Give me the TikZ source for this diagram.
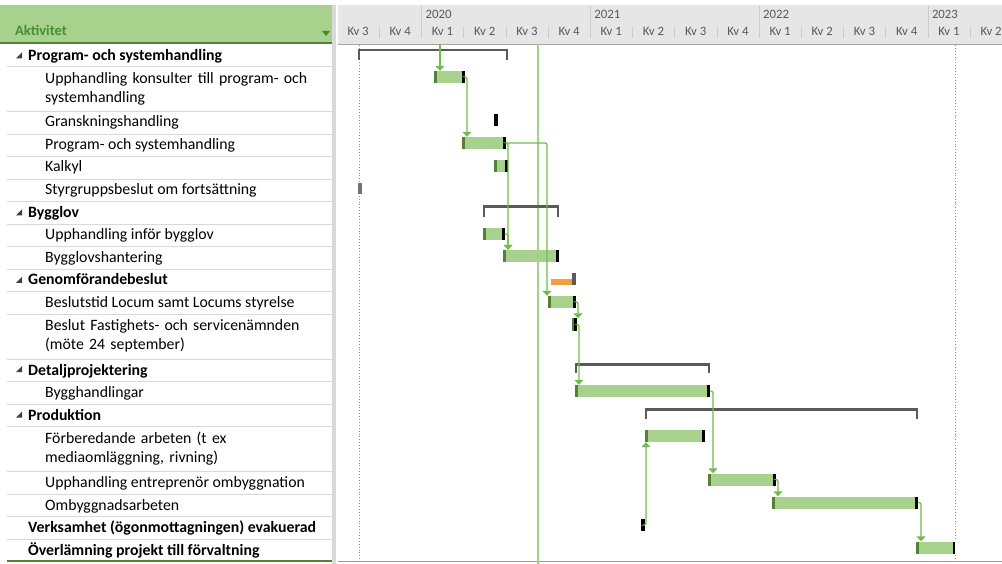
\documentclass[tikz,border=0pt]{standalone}
\usepackage{fontspec}
\setmainfont{Carlito}
\usetikzlibrary{arrows.meta, calc}

\definecolor{barfill}{HTML}{A9D18E}
\definecolor{barstart}{HTML}{548235}
\definecolor{linkgreen}{HTML}{72BC4B}
\definecolor{summarygray}{HTML}{5A5A5A}
\definecolor{hdrtext}{HTML}{43912F}
\definecolor{hdrgray}{HTML}{E6E6E6}
\definecolor{gridgray}{HTML}{D9D9D9}
\definecolor{todaygreen}{HTML}{A2D28C}
\definecolor{critorange}{HTML}{F0A040}

\begin{document}
\begin{tikzpicture}[
    x=1pt, y=-1pt,
    every node/.style={inner sep=0pt, font=\fontsize{15.8}{19}\selectfont},
    task/.style={anchor=base west},
    summary/.style={anchor=base west, font=\fontsize{15.8}{19}\selectfont\bfseries},
    twoline/.style={anchor=north west, text width=290pt, align=left},
    qlabel/.style={font=\fontsize{12.8}{14}\selectfont, text=black!65},
    bar/.style={
        anchor=west,
        fill=barfill,
        minimum height=12pt,
        path picture={
            \fill[barstart] (path picture bounding box.north west) rectangle ([xshift=3pt]path picture bounding box.south west);
            \fill[black] ([xshift=-3pt]path picture bounding box.north east) rectangle (path picture bounding box.south east);
        }
    },
    tickbar/.style={anchor=west, fill=black, minimum width=4pt, minimum height=12pt},
    bracket/.style={draw=summarygray, line width=2.6pt},
    link/.style={draw=linkgreen, line width=1.3pt, rounded corners=2pt, -{Triangle[width=9pt,length=5pt]}},
    fold/.style={fill=black!75}
]
\useasboundingbox (0,0) rectangle (1002,564);

% --- header ---
\fill[barfill] (0,5) rectangle (332,43);
\draw[barstart, line width=1.8pt] (0,43) -- (332,43);
\node[anchor=base west, font=\fontsize{14.5}{15}\selectfont\bfseries, text=hdrtext] (hdr) at (15,36) {Aktivitet};
\fill[barstart] (322,31) -- (330,31) -- (326,36) -- cycle;
\fill[gridgray] (332,5) rectangle (336,564);
\fill[hdrgray] (338,5) rectangle (1002,44);
\draw[black!35] (338,44) -- (1002,44);

% quarters and years (one quarter = 42.2)
\foreach \k in {0,...,15} {
    \pgfmathtruncatemacro\q{mod(\k+2,4)+1}
    \node[qlabel] (q\k) at ({337+42.2*(\k+0.5)},31.5) {Kv \q};
}
\foreach \k in {1,...,15}
    \draw[black!20] ({337+42.2*\k},27) -- ({337+42.2*\k},38);
\foreach \yr/\k in {2020/2, 2021/6, 2022/10, 2023/14} {
    \draw[black!20] ({337+42.2*\k},6) -- ({337+42.2*\k},38);
    \node[qlabel, anchor=west] (y\yr) at ({337+42.2*\k+4},14.5) {\yr};
}

% --- table grid ---
\foreach \y in {66.5,111.5,134,156.5,179,201.5,224,246.5,269,291.5,314,359,381.5,404,426.5,471.5,494,516.5,539}
    \draw[gridgray] (7,\y) -- (332,\y);
\draw[barstart, line width=1.6pt] (7,561) -- (332,561);
\draw[black!40] (338,561) -- (1002,561);

% project start / finish and status date
\draw[black!45, dotted, line width=0.9pt] (359,45) -- (359,564);
\draw[black!45, dotted, line width=0.9pt] (955,45) -- (955,564);
\draw[todaygreen, line width=1.1pt] (538,44) -- (538,564);

% --- activity names ---
\foreach \y in {55.5,212.5,280,369,414.5}
    \fill[fold] (16,\y+3) -- (22,\y+3) -- (22,\y-3) -- cycle;
\node[summary] (n1) at (28,61) {Program- och systemhandling};
\node[twoline] (n2) at (45,72) {Upphandling konsulter till program- och\\ systemhandling};
\node[task] (n3) at (45,126.5) {Granskningshandling};
\node[task] (n4) at (45,149.5) {Program- och systemhandling};
\node[task] (n5) at (45,172) {Kalkyl};
\node[task] (n6) at (45,194.5) {Styrgruppsbeslut om fortsättning};
\node[summary] (n7) at (28,217.5) {Bygglov};
\node[task] (n8) at (45,240) {Upphandling inför bygglov};
\node[task] (n9) at (45,262.5) {Bygglovshantering};
\node[summary] (n10) at (28,285) {Genomförandebeslut};
\node[task] (n11) at (45,307.5) {Beslutstid Locum samt Locums styrelse};
\node[twoline] (n12) at (45,319.5) {Beslut Fastighets- och servicenämnden\\ (möte 24 september)};
\node[summary] (n13) at (28,375) {Detaljprojektering};
\node[task] (n14) at (45,397.5) {Bygghandlingar};
\node[summary] (n15) at (28,420) {Produktion};
\node[twoline] (n16) at (45,432) {Förberedande arbeten (t ex\\ mediaomläggning, rivning)};
\node[task] (n17) at (45,487.5) {Upphandling entreprenör ombyggnation};
\node[task] (n18) at (45,510) {Ombyggnadsarbeten};
\node[summary] (n19) at (28,532.5) {Verksamhet (ögonmottagningen) evakuerad};
\node[summary] (n20) at (28,555) {Överlämning projekt till förvaltning};

% --- summary brackets ---
\draw[bracket] (359,60) -- (359,50) -- (507,50) -- (507,60);
\draw[bracket] (484,217) -- (484,206.5) -- (558,206.5) -- (558,217);
\draw[bracket] (576,373) -- (576,364.5) -- (709,364.5) -- (709,373);
\draw[bracket] (646,419) -- (646,409.5) -- (917,409.5) -- (917,419);
\node[anchor=west, fill=critorange, minimum width=21pt, minimum height=6pt] (b10) at (551,282) {};
\fill[summarygray] (572,273) rectangle (575.5,285.5);

% --- task bars ---
\node[bar, minimum width=31pt] (b2) at (434,77) {};
\node[tickbar] (b3) at (494,120) {};
\node[bar, minimum width=44pt] (b4) at (462,143) {};
\node[bar, minimum width=14pt] (b5) at (494,166) {};
\node[tickbar, fill=black!55, minimum height=11pt] (b6) at (358,188.5) {};
\node[bar, minimum width=22pt] (b8) at (483,234) {};
\node[bar, minimum width=56pt] (b9) at (503,256) {};
\node[bar, minimum width=28pt] (b11) at (548,302) {};
\node[bar, minimum width=5pt] (b12) at (572,324.5) {};
\node[bar, minimum width=135pt] (b14) at (575,391) {};
\node[bar, minimum width=60pt] (b16) at (645,436) {};
\node[bar, minimum width=68pt] (b17) at (708,479.5) {};
\node[bar, minimum width=146pt] (b18) at (772,502.5) {};
\node[tickbar, minimum width=3.5pt] (b19) at (641,525) {};
\node[bar, minimum width=40pt] (b20) at (916,547.5) {};
\draw[white, line width=0.7pt] ([xshift=-1.5pt]b20.north east) -- ([xshift=-1.5pt]b20.south east);

% --- links ---
\coordinate (in2) at (440,44);
\draw[link] (in2) -- ([xshift=6pt]b2.north west);
\draw[link] (b2.east) -| ([xshift=5pt]b4.north west);
\draw[link] (b4.east) -| ([xshift=5pt]b9.north west);
\draw[link] (b8.east) -| ([xshift=5pt]b9.north west);
\draw[link] (b4.east) -| ([xshift=-1pt]b11.north west);
\draw[link] (b11.east) -| ([xshift=6pt]b12.north west);
\draw[link] (b12.east) -| ([xshift=4pt]b14.north west);
\draw[link] (b14.east) -| ([xshift=5pt]b17.north west);
\draw[link] (b19.east) -| ([xshift=1pt]b16.south west);
\draw[link] (b17.east) -| ([xshift=6pt]b18.north west);
\draw[link] (b18.east) -| ([xshift=5pt]b20.north west);

\end{tikzpicture}
\end{document}
